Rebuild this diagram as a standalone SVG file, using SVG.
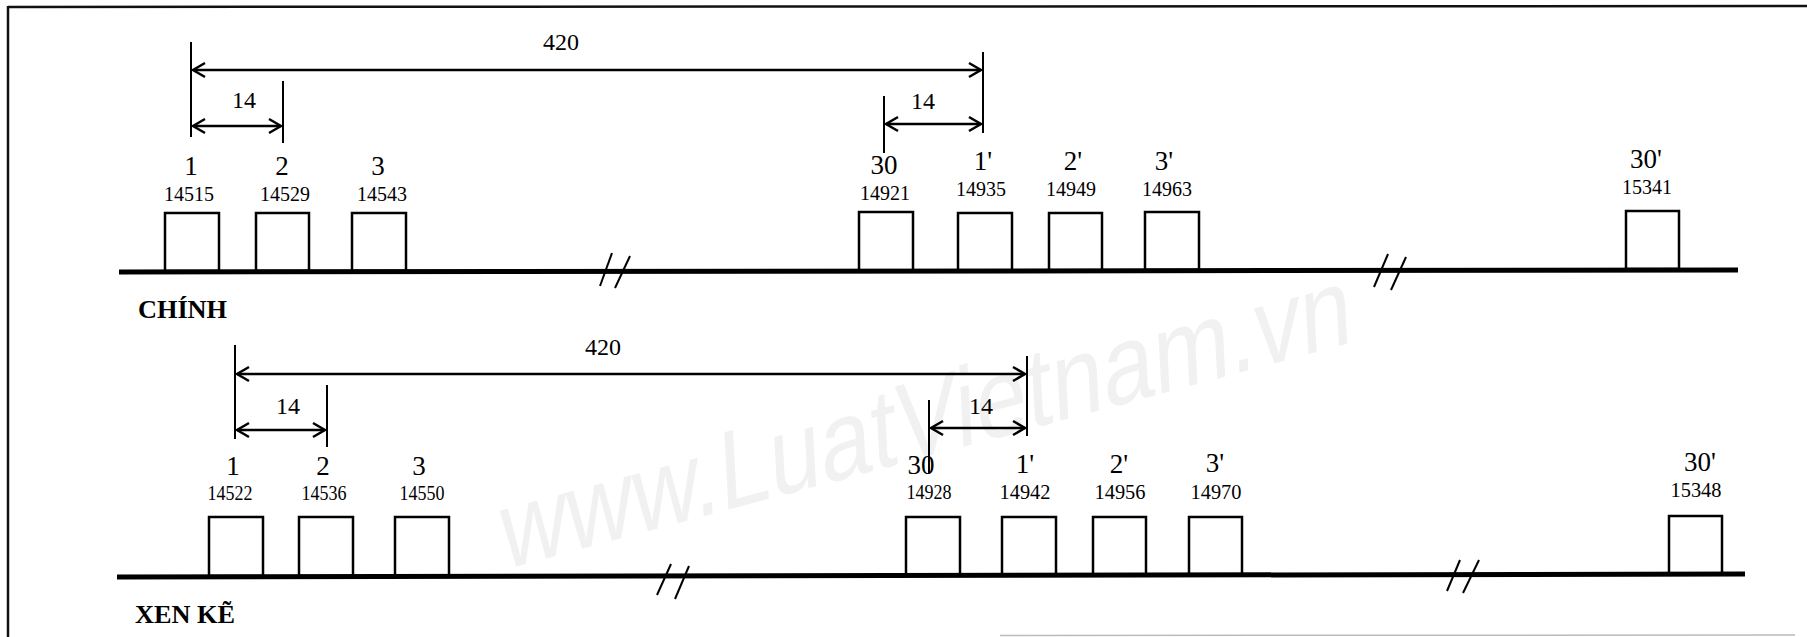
<svg xmlns="http://www.w3.org/2000/svg" width="1807" height="637" viewBox="0 0 1807 637">
<style>
.frame{stroke:#111;stroke-width:2.5;fill:none}
.base{stroke:#000;stroke-width:5;fill:none}
.box{stroke:#000;stroke-width:2.5;fill:none}
.tick{stroke:#000;stroke-width:2;fill:none}
.dim{stroke:#000;stroke-width:2.5;fill:none;marker-start:url(#ah);marker-end:url(#ah)}
.brk{stroke:#000;stroke-width:2;fill:none}
.ord{font-family:"Liberation Serif","Times New Roman",serif;font-size:27px;fill:#000;text-anchor:middle}
.num{font-family:"Liberation Serif","Times New Roman",serif;font-size:22px;fill:#000;text-anchor:middle}
.nums{font-family:"Liberation Serif","Times New Roman",serif;font-size:20px;fill:#000;text-anchor:middle}
.dl{font-family:"Liberation Serif","Times New Roman",serif;font-size:24px;fill:#000;text-anchor:middle}
.title{font-family:"Liberation Serif","Times New Roman",serif;font-size:25px;font-weight:bold;fill:#000}
.wm{font-family:"Liberation Sans",Arial,sans-serif;font-size:110px;fill:#f1f1f1}
</style>
<defs>
<marker id="ah" viewBox="-14 -9 16 18" refX="0" refY="0" markerWidth="16" markerHeight="18" markerUnits="userSpaceOnUse" orient="auto-start-reverse">
<path d="M-12,-7 L0,0 L-12,7" fill="none" stroke="#000" stroke-width="2.5"/>
</marker>
</defs>
<rect width="1807" height="637" fill="#fff"/>
<g id="watermark">
<text class="wm" transform="translate(503,570) rotate(-15) skewX(-12)" textLength="880" lengthAdjust="spacingAndGlyphs">www.LuatVietnam.vn</text>
</g>
<g id="frame">
<line class="frame" x1="8" y1="7" x2="1807" y2="6"/>
<line class="frame" x1="8" y1="6" x2="8" y2="637"/>
<line x1="1000" y1="635.5" x2="1795" y2="635" stroke="#bbb" stroke-width="1.5"/>
</g>
<g id="panel-chinh">
<line id="axis-chinh" class="base" x1="119" y1="272" x2="1738" y2="270"/>
<g class="brk" id="break-chinh">
<line x1="600" y1="286" x2="612" y2="253"/>
<line x1="615" y1="288" x2="630" y2="256"/>
<line x1="1374" y1="287" x2="1388" y2="254"/>
<line x1="1391" y1="290" x2="1406" y2="257"/>
</g>
<g id="c1"><rect class="box" x="165" y="213" width="54" height="58"/><text class="ord" x="191" y="175">1</text><text class="num" x="189" y="201" textLength="50" lengthAdjust="spacingAndGlyphs">14515</text></g>
<g id="c2"><rect class="box" x="256" y="213" width="53" height="58"/><text class="ord" x="282" y="175">2</text><text class="num" x="285" y="201" textLength="50" lengthAdjust="spacingAndGlyphs">14529</text></g>
<g id="c3"><rect class="box" x="352" y="213" width="54" height="58"/><text class="ord" x="378" y="175">3</text><text class="num" x="382" y="201" textLength="50" lengthAdjust="spacingAndGlyphs">14543</text></g>
<g id="c30"><rect class="box" x="859" y="212" width="54" height="59"/><text class="ord" x="884" y="174">30</text><text class="num" x="885" y="200" textLength="50" lengthAdjust="spacingAndGlyphs">14921</text></g>
<g id="c1p"><rect class="box" x="958" y="213" width="54" height="58"/><text class="ord" x="983" y="170">1'</text><text class="num" x="981" y="196" textLength="50" lengthAdjust="spacingAndGlyphs">14935</text></g>
<g id="c2p"><rect class="box" x="1049" y="213" width="53" height="58"/><text class="ord" x="1073" y="170">2'</text><text class="num" x="1071" y="196" textLength="50" lengthAdjust="spacingAndGlyphs">14949</text></g>
<g id="c3p"><rect class="box" x="1145" y="212" width="54" height="58"/><text class="ord" x="1164" y="170">3'</text><text class="num" x="1167" y="196" textLength="50" lengthAdjust="spacingAndGlyphs">14963</text></g>
<g id="c30p"><rect class="box" x="1626" y="211" width="53" height="58"/><text class="ord" x="1646" y="168">30'</text><text class="num" x="1647" y="194" textLength="50" lengthAdjust="spacingAndGlyphs">15341</text></g>
<text class="title" x="138" y="318" textLength="89" lengthAdjust="spacingAndGlyphs">CHÍNH</text>
</g>
<g id="dims-chinh">
<line class="tick" x1="191" y1="42" x2="191" y2="137"/>
<line class="tick" x1="283" y1="81" x2="283" y2="143"/>
<line class="tick" x1="983" y1="52" x2="983" y2="133"/>
<line class="tick" x1="884" y1="96" x2="884" y2="153"/>
<line class="dim" x1="193" y1="70" x2="981" y2="70"/>
<text class="dl" x="561" y="50">420</text>
<line class="dim" x1="193" y1="126" x2="281" y2="126"/>
<text class="dl" x="244" y="108">14</text>
<line class="dim" x1="886" y1="124" x2="981" y2="124"/>
<text class="dl" x="923" y="109">14</text>
</g>
<g id="panel-xenke">
<line id="axis-xenke" class="base" x1="117" y1="577" x2="1745" y2="574"/>
<g class="brk" id="break-xenke">
<line x1="657" y1="595" x2="671" y2="564"/>
<line x1="675" y1="599" x2="689" y2="566"/>
<line x1="1447" y1="591" x2="1460" y2="560"/>
<line x1="1463" y1="593" x2="1479" y2="560"/>
</g>
<g id="x1"><rect class="box" x="209" y="517" width="54" height="59"/><text class="ord" x="233" y="475">1</text><text class="nums" x="230" y="500" textLength="45" lengthAdjust="spacingAndGlyphs">14522</text></g>
<g id="x2"><rect class="box" x="299" y="517" width="54" height="59"/><text class="ord" x="323" y="475">2</text><text class="nums" x="324" y="500" textLength="45" lengthAdjust="spacingAndGlyphs">14536</text></g>
<g id="x3"><rect class="box" x="395" y="517" width="54" height="59"/><text class="ord" x="419" y="475">3</text><text class="nums" x="422" y="500" textLength="45" lengthAdjust="spacingAndGlyphs">14550</text></g>
<g id="x30"><rect class="box" x="906" y="517" width="54" height="58"/><text class="ord" x="921" y="474">30</text><text class="nums" x="929" y="499" textLength="45" lengthAdjust="spacingAndGlyphs">14928</text></g>
<g id="x1p"><rect class="box" x="1002" y="517" width="54" height="58"/><text class="ord" x="1025" y="473">1'</text><text class="num" x="1025" y="499" textLength="51" lengthAdjust="spacingAndGlyphs">14942</text></g>
<g id="x2p"><rect class="box" x="1093" y="517" width="53" height="58"/><text class="ord" x="1119" y="473">2'</text><text class="num" x="1120" y="499" textLength="51" lengthAdjust="spacingAndGlyphs">14956</text></g>
<g id="x3p"><rect class="box" x="1189" y="517" width="53" height="58"/><text class="ord" x="1215" y="472">3'</text><text class="num" x="1216" y="499" textLength="51" lengthAdjust="spacingAndGlyphs">14970</text></g>
<g id="x30p"><rect class="box" x="1669" y="516" width="53" height="58"/><text class="ord" x="1700" y="471">30'</text><text class="num" x="1696" y="497" textLength="51" lengthAdjust="spacingAndGlyphs">15348</text></g>
<text class="title" x="135" y="623" textLength="100" lengthAdjust="spacingAndGlyphs">XEN KẼ</text>
</g>
<g id="dims-xenke">
<line class="tick" x1="235" y1="345" x2="235" y2="439"/>
<line class="tick" x1="327" y1="385" x2="327" y2="447"/>
<line class="tick" x1="1027" y1="356" x2="1027" y2="436"/>
<line class="tick" x1="929" y1="400" x2="929" y2="474"/>
<line class="dim" x1="237" y1="374" x2="1025" y2="374"/>
<text class="dl" x="603" y="355">420</text>
<line class="dim" x1="237" y1="430" x2="325" y2="430"/>
<text class="dl" x="288" y="414">14</text>
<line class="dim" x1="931" y1="428" x2="1025" y2="428"/>
<text class="dl" x="981" y="414">14</text>
</g>
</svg>
